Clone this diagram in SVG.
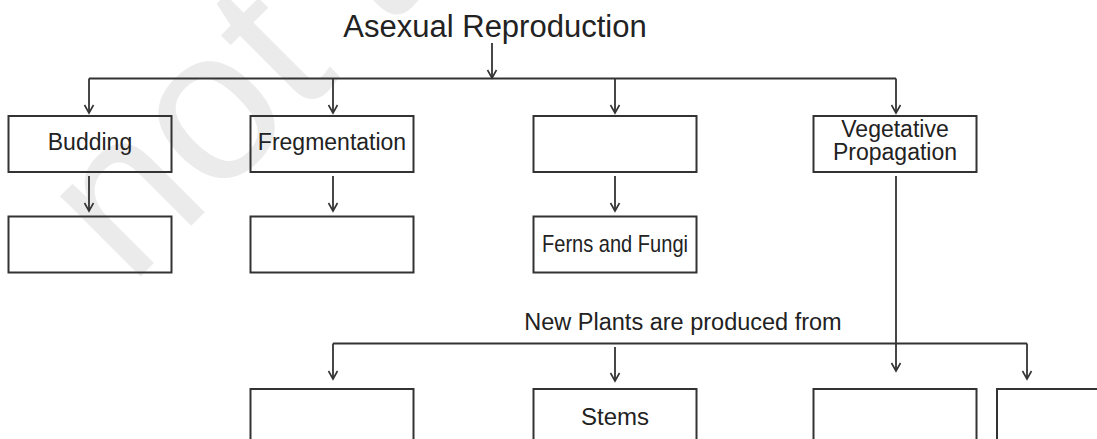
<svg xmlns="http://www.w3.org/2000/svg" width="1097" height="439" viewBox="0 0 1097 439">
<defs>
<style>
.box{fill:none;stroke:#333333;stroke-width:2}
.ln{fill:none;stroke:#333333;stroke-width:1.8}
.t{font-family:"Liberation Sans",Arial,sans-serif;fill:#222222;text-anchor:middle}
.wm{font-family:"Liberation Sans",Arial,sans-serif;fill:#ebebeb}
</style>
<marker id="ah" markerUnits="userSpaceOnUse" markerWidth="12" markerHeight="12" viewBox="0 0 12 12" refX="10" refY="6" orient="auto">
<path d="M2,1.5 L10,6 L2,10.5" fill="none" stroke="#333333" stroke-width="1.6"/>
</marker>
</defs>
<rect width="1097" height="439" fill="#ffffff"/>
<text class="wm" font-size="215" transform="translate(130,287) rotate(-45)">not to</text>
<g id="connectors">
<path class="ln" d="M492,43 V78" marker-end="url(#ah)"/>
<path class="ln" d="M89,78.5 H896"/>
<path class="ln" d="M89,78.5 V113" marker-end="url(#ah)"/>
<path class="ln" d="M333,78.5 V113" marker-end="url(#ah)"/>
<path class="ln" d="M615,78.5 V113" marker-end="url(#ah)"/>
<path class="ln" d="M896,78.5 V113" marker-end="url(#ah)"/>
<path class="ln" d="M89,176 V211" marker-end="url(#ah)"/>
<path class="ln" d="M333,176 V211" marker-end="url(#ah)"/>
<path class="ln" d="M615,176 V211" marker-end="url(#ah)"/>
<path class="ln" d="M896,176 V371" marker-end="url(#ah)"/>
<path class="ln" d="M333,343.5 H1027"/>
<path class="ln" d="M333,343.5 V379" marker-end="url(#ah)"/>
<path class="ln" d="M1027,343.5 V379" marker-end="url(#ah)"/>
<path class="ln" d="M615,347 V381" marker-end="url(#ah)"/>
</g>
<g id="title"><text class="t" x="495" y="37" font-size="31">Asexual Reproduction</text></g>
<g id="budding"><rect class="box" x="8.5" y="116" width="163" height="56"/><text class="t" x="90" y="150" font-size="23">Budding</text></g>
<g id="fregmentation"><rect class="box" x="250.5" y="116" width="163" height="56"/><text class="t" x="332" y="150" font-size="23">Fregmentation</text></g>
<g id="blank1"><rect class="box" x="533.5" y="116" width="163" height="56"/></g>
<g id="vegetative"><rect class="box" x="813.5" y="116" width="163" height="56"/><text class="t" x="895" y="137" font-size="23">Vegetative</text><text class="t" x="895" y="160" font-size="23">Propagation</text></g>
<g id="blank2"><rect class="box" x="8.5" y="216.5" width="163" height="56"/></g>
<g id="blank3"><rect class="box" x="250.5" y="216.5" width="163" height="56"/></g>
<g id="ferns"><rect class="box" x="533.5" y="216.5" width="163" height="56"/><text class="t" x="615" y="252" font-size="24" textLength="146" lengthAdjust="spacingAndGlyphs">Ferns and Fungi</text></g>
<g id="newplants"><text class="t" x="683" y="330" font-size="23.5">New Plants are produced from</text></g>
<g id="blank4"><rect class="box" x="250.5" y="389" width="163" height="60"/></g>
<g id="stems"><rect class="box" x="533.5" y="389" width="163" height="60"/><text class="t" x="615" y="425" font-size="24">Stems</text></g>
<g id="blank5"><rect class="box" x="813.5" y="389" width="163" height="60"/></g>
<g id="blank6"><rect class="box" x="997" y="389" width="163" height="60"/></g>
</svg>
